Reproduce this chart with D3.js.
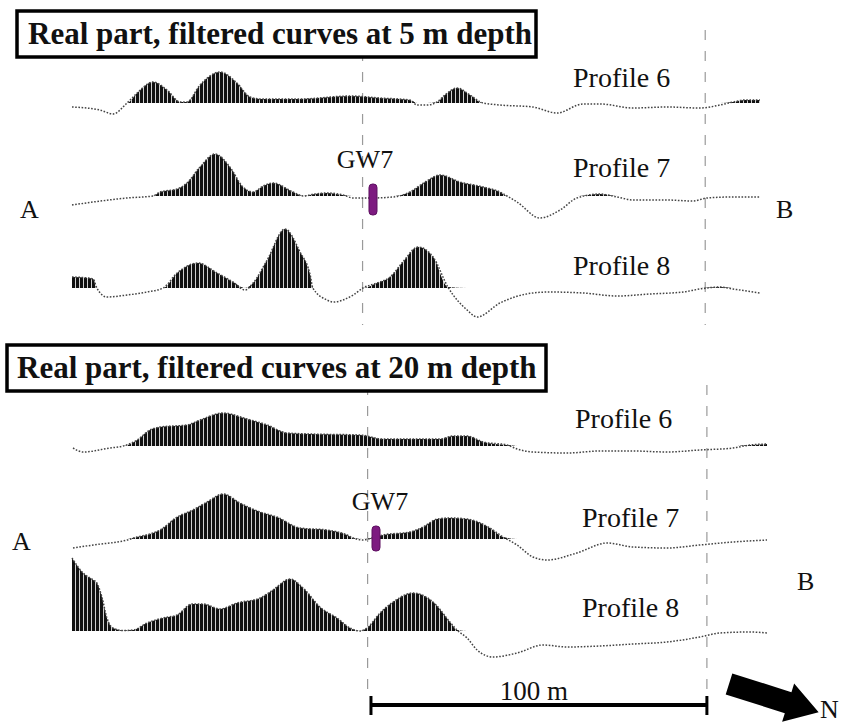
<!DOCTYPE html>
<html>
<head>
<meta charset="utf-8">
<script src="https://cdn.jsdelivr.net/npm/d3@7"></script>
<style>
  body { margin: 0; background: #fff; }
  svg text { fill: #111; }
</style>
</head>
<body>
<div id="chart"></div>
<script>
// distance along A-B (m), filtered real part (relative units)
var p6_5m = [[0,-4],[8.3,-7],[12.2,-11],[16.4,0],[19.4,10],[24.1,21],[28.3,13],[32.2,1],[34.2,1],[38.1,18],
  [44.1,31],[49.1,20],[53.0,6],[56.2,4],[67.9,4],[82.8,7],[91.7,5],[100.6,3],[102.7,-2],[105.7,-2],[108.7,1],
  [111.0,8],[114.6,15],[118.5,8],[122.4,0],[127.4,-2],[137.2,-4],[144.4,-10],[152.1,-1],[157.2,-1],[167.0,-5],
  [177.1,-4],[186.9,-5],[192.9,-2],[196.8,1],[200.4,3],[204.8,3]];
var p7_5m = [[0,-9],[6.3,-6],[16.4,-2],[24.1,0],[26.2,4],[31.3,7],[34.2,13],[38.1,29],[42.6,42],[47.0,29],
  [50.9,9],[53.9,4],[56.9,10],[59.8,13],[65.8,4],[68.8,0],[72.3,2],[75.9,3],[80.7,1],[83.7,-2],[88.7,-2],
  [95.6,-1],[100.6,4],[105.1,14],[109.6,21],[115.5,14],[122.4,9],[127.4,4],[129.5,0],[132.5,-6],[139.3,-22],
  [145.3,-14],[150.3,-2],[157.2,2],[162.3,-1],[167.0,-4],[177.1,-4],[184.9,-5],[189.0,-2],[196.8,-1],[204.8,-1]];
var p8_5m = [[0,11],[4.8,10],[6.3,9],[7.4,0],[10.4,-9],[16.4,-7],[22.3,-4],[27.1,0],[31.3,15],[37.5,25],
  [43.2,15],[47.9,6],[51.5,-2],[53.9,5],[58.1,28],[63.4,59],[67.9,36],[70.9,13],[71.7,0],[75.9,-12],[77.7,-14],
  [83.7,-7],[86.6,0],[90.8,5],[94.7,11],[98.5,26],[103.0,41],[107.5,31],[111.9,1],[117.6,-22],[120.6,-29],
  [127.4,-15],[137.2,-5],[142.3,-4],[152.1,-5],[162.3,-8],[172.1,-6],[181.9,-4],[186.9,-1],[192.9,1],
  [196.8,-1],[204.8,-5]];

var p6_20m = [[0.3,-2],[3.3,-6],[11.3,-2],[15.2,0],[19.4,6],[23.2,16],[26.2,19],[34.2,21],[38.1,26],[45.0,33],
  [52.1,27],[58.1,21],[64.0,13],[70.9,12],[85.7,11],[92.6,7],[109.6,7],[113.4,10],[117.6,10],[122.4,4],
  [129.5,1],[132.5,-3],[137.2,-6],[147.4,-7],[157.2,-5],[167.0,-5],[177.1,-6],[186.9,-4],[196.8,-2],
  [201.8,1],[206.9,2]];
var p7_20m = [[0.3,-9],[6.3,-6],[16.4,-1],[19.4,2],[23.2,5],[26.2,9],[31.3,22],[36.0,29],[40.2,37],[45.0,45],
  [50.0,36],[56.0,27],[61.0,22],[67.9,11],[75.9,9],[81.9,4],[83.7,1],[86.6,-1],[89.3,1],[92.6,4],[100.6,7],
  [104.5,12],[108.7,20],[112.5,21],[117.6,20],[124.4,11],[128.3,2],[132.5,-6],[137.2,-18],[141.4,-21],
  [150.3,-14],[159.3,-4],[167.0,-8],[177.1,-9],[186.9,-6],[196.8,-3],[206.9,-1]];
var p8_20m = [[0,73],[3.3,58],[6.3,51],[7.4,48],[8.9,34],[10.4,13],[12.2,3],[15.2,0.5],[18.2,1],[22.3,8],
  [27.1,13],[31.3,16],[35.7,27],[39.0,27],[44.1,22],[49.1,28],[56.0,33],[59.8,41],[64.9,52],[68.8,43],
  [73.8,24],[78.9,13],[82.8,3],[85.7,0],[87.8,3],[91.7,18],[95.6,29],[101.5,38],[107.5,29],[112.5,9],
  [114.6,1],[117.6,-7],[120.6,-19],[125.3,-26],[132.5,-22],[140.2,-14],[147.4,-16],[157.2,-15],[167.0,-13],
  [177.1,-11],[186.9,-6],[192.9,-2],[201.8,-1],[206.9,-2]];

var titles = ["Real part, filtered curves at 5 m depth", "Real part, filtered curves at 20 m depth"];
var profileNames = ["Profile 6", "Profile 7", "Profile 8"];
var guideLines = [[86.5, 188.5], [88, 189]];   // m
var gw7Pos = [89.6, 90.5];                      // m
var scaleBar = [89, 189];                       // 100 m

var width = 848, height = 726;
var serif = "'Liberation Serif', 'Times New Roman', Times, 'DejaVu Serif', serif";

var svg = d3.select("#chart").append("svg")
  .attr("width", width)
  .attr("height", height)
  .attr("font-family", serif);

var defs = svg.append("defs");
var pat = defs.append("pattern")
  .attr("id", "stripes")
  .attr("patternUnits", "userSpaceOnUse")
  .attr("width", 4)
  .attr("height", 8);
pat.append("rect").attr("width", 4).attr("height", 8).attr("fill", "#d0d0d0");
pat.append("rect").attr("width", 3).attr("height", 8).attr("fill", "#111");

var x = d3.scaleLinear().domain([0, 206]).range([72, 764]);

var panels = [
  { title: titles[0], box: [17, 11, 519, 46], titleX: 28, titleY: 44,
    guides: guideLines[0], guideY: [30, 325], gw7: gw7Pos[0], gwLabel: [365, 168], gwY: [184, 215],
    A: [20, 218], B: [776, 218],
    profiles: [
      { data: p6_5m, base: 103, lx: 573, ly: 87 },
      { data: p7_5m, base: 196, lx: 573, ly: 177 },
      { data: p8_5m, base: 288, lx: 573, ly: 275 }
    ] },
  { title: titles[1], box: [7, 345, 539, 46], titleX: 17, titleY: 378,
    guides: guideLines[1], guideY: [385, 692], gw7: gw7Pos[1], gwLabel: [380, 510], gwY: [526, 551],
    A: [12, 550], B: [797, 590],
    profiles: [
      { data: p6_20m, base: 446, lx: 575, ly: 428 },
      { data: p7_20m, base: 539, lx: 582, ly: 527 },
      { data: p8_20m, base: 631, lx: 582, ly: 617 }
    ] }
];

panels.forEach(function(panel) {
  var g = svg.append("g");

  // dashed guide lines
  g.selectAll(".guide")
    .data(panel.guides)
    .enter().append("line")
    .attr("x1", function(d) { return x(d); })
    .attr("x2", function(d) { return x(d); })
    .attr("y1", panel.guideY[0])
    .attr("y2", panel.guideY[1])
    .attr("stroke", "#9a9a9a")
    .attr("stroke-width", 1.2)
    .attr("stroke-dasharray", "10,11");

  panel.profiles.forEach(function(p, i) {
    var y = d3.scaleLinear().domain([0, 1]).range([p.base, p.base - 1]);

    var area = d3.area()
      .x(function(d) { return x(d[0]); })
      .y0(y(0))
      .y1(function(d) { return y(Math.max(0, d[1])); })
      .curve(d3.curveMonotoneX);

    var line = d3.line()
      .x(function(d) { return x(d[0]); })
      .y(function(d) { return y(d[1]); })
      .curve(d3.curveMonotoneX);

    g.append("path")
      .datum(p.data)
      .attr("d", area)
      .attr("fill", "url(#stripes)");

    g.append("path")
      .datum(p.data)
      .attr("d", line)
      .attr("fill", "none")
      .attr("stroke", "#444")
      .attr("stroke-width", 1.5)
      .attr("stroke-dasharray", "1.6,1.6");

    g.append("text")
      .attr("x", p.lx)
      .attr("y", p.ly)
      .attr("font-size", 28)
      .text(profileNames[i]);
  });

  // title box
  g.append("rect")
    .attr("x", panel.box[0]).attr("y", panel.box[1])
    .attr("width", panel.box[2]).attr("height", panel.box[3])
    .attr("fill", "#fff")
    .attr("stroke", "#000")
    .attr("stroke-width", 3.5);
  g.append("text")
    .attr("x", panel.titleX)
    .attr("y", panel.titleY)
    .attr("font-size", 31)
    .attr("font-weight", "bold")
    .text(panel.title);

  // GW7 well
  g.append("rect")
    .attr("x", x(panel.gw7) - 4)
    .attr("y", panel.gwY[0])
    .attr("width", 8)
    .attr("height", panel.gwY[1] - panel.gwY[0])
    .attr("rx", 3.5)
    .attr("fill", "#7d1a80")
    .attr("stroke", "#5c0e5f")
    .attr("stroke-width", 1);
  g.append("text")
    .attr("x", panel.gwLabel[0])
    .attr("y", panel.gwLabel[1])
    .attr("text-anchor", "middle")
    .attr("font-size", 26)
    .text("GW7");

  g.append("text").attr("x", panel.A[0]).attr("y", panel.A[1]).attr("font-size", 26).text("A");
  g.append("text").attr("x", panel.B[0]).attr("y", panel.B[1]).attr("font-size", 26).text("B");
});

// scale bar
var sb = svg.append("g");
sb.append("line")
  .attr("x1", x(scaleBar[0])).attr("x2", x(scaleBar[1]))
  .attr("y1", 705).attr("y2", 705)
  .attr("stroke", "#000").attr("stroke-width", 4);
sb.selectAll(".tick")
  .data(scaleBar)
  .enter().append("line")
  .attr("x1", function(d) { return x(d); })
  .attr("x2", function(d) { return x(d); })
  .attr("y1", 696).attr("y2", 715)
  .attr("stroke", "#000").attr("stroke-width", 3);
sb.append("text")
  .attr("x", x((scaleBar[0] + scaleBar[1]) / 2) - 5)
  .attr("y", 700)
  .attr("text-anchor", "middle")
  .attr("font-size", 27)
  .text("100 m");

// north arrow
var arrow = svg.append("g").attr("transform", "translate(729,684) rotate(17.5)");
arrow.append("path")
  .attr("d", "M0,-11 L62,-11 L62,-20 L94,0 L62,20 L62,11 L0,11 Z")
  .attr("fill", "#000");
svg.append("text")
  .attr("x", 820)
  .attr("y", 718)
  .attr("font-size", 26)
  .text("N");
</script>
</body>
</html>
